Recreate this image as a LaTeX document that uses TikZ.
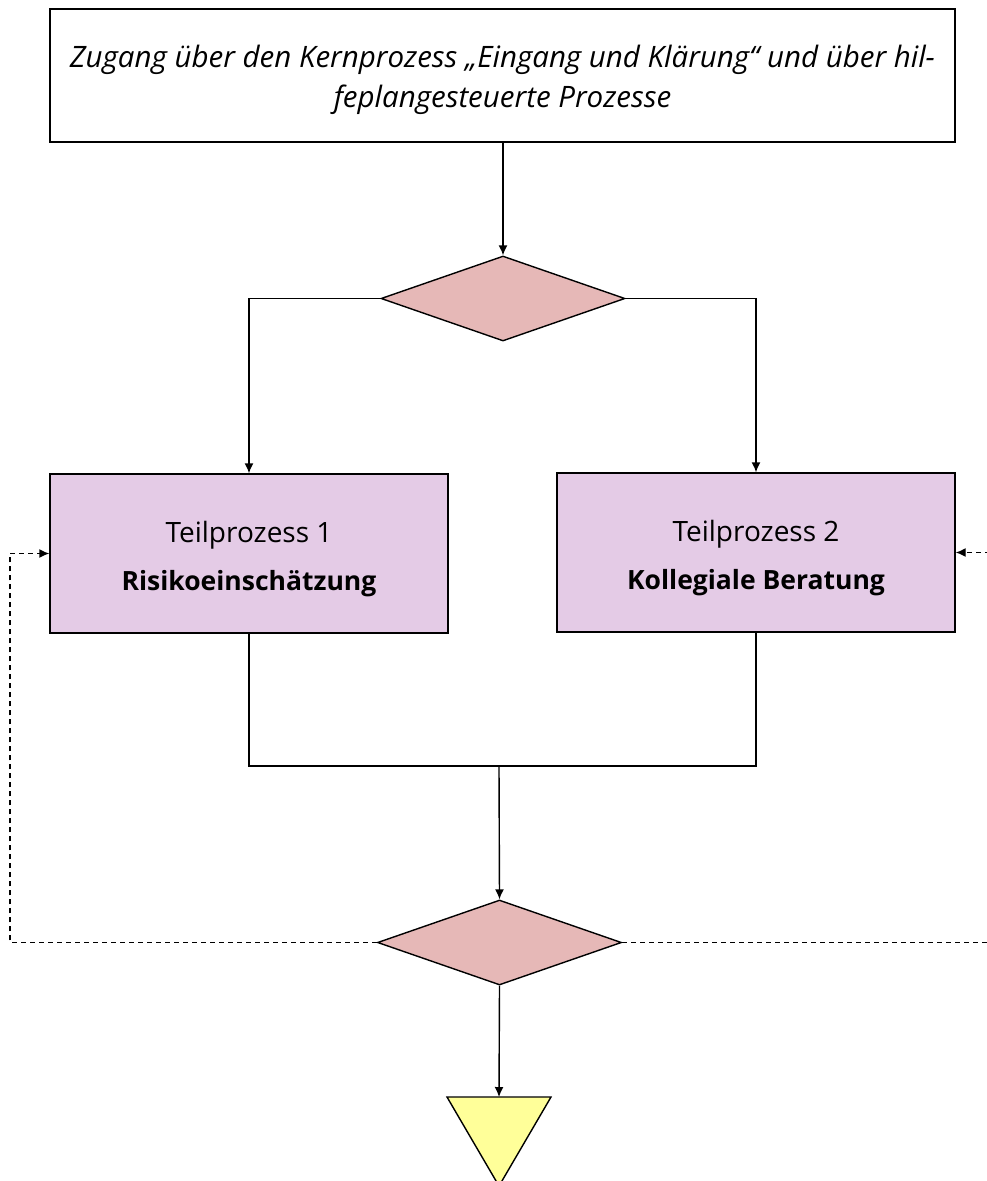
\documentclass[tikz,border=0pt]{standalone}
\usepackage{fontspec}
\setmainfont{Open Sans}
\usetikzlibrary{shapes.geometric,arrows.meta}
\definecolor{boxpurple}{HTML}{E4CBE6}
\definecolor{diapink}{HTML}{E6B8B7}
\definecolor{triyellow}{HTML}{FFFF99}
\tikzset{
  line/.style={line width=1.4pt, draw=black},
  arr/.style={line, -{Latex[length=10pt,width=9pt]}},
  darr/.style={line, dashed, dash pattern=on 5pt off 4pt, -{Latex[length=10pt,width=9pt]}},
  dline/.style={line, dashed, dash pattern=on 5pt off 4pt},
  topbox/.style={rectangle, line, fill=white, minimum width=905pt, minimum height=133pt, inner sep=0pt},
  toptext/.style={inner sep=0pt, align=center, font=\fontsize{29.5}{40}\selectfont\itshape},
  procbox/.style={rectangle, line, fill=boxpurple, minimum width=398pt, minimum height=159pt, inner sep=0pt},
  proctext/.style={inner sep=0pt, align=center, font=\fontsize{28}{48}\selectfont},
  decision/.style={diamond, line, fill=diapink, minimum width=244pt, minimum height=85pt, inner sep=0pt},
}
\begin{document}
\begin{tikzpicture}[x=1pt,y=-1pt]
\useasboundingbox (0,0) rectangle (987,1181);
\node[topbox] (top) at (502.5,75.5) {};
\node[toptext] (topt) at (502.5,79.5) {Zugang über den Kernprozess „Eingang und Klärung“ und über hil-\\feplangesteuerte Prozesse};
\node[decision] (d1) at (503,298.5) {};
\node[procbox] (p1) at (249,553.5) {};
\node[procbox] (p2) at (756,552.5) {};
\node[proctext] (p1t) at (249,559) {Teilprozess 1\\{\fontsize{26.5}{48}\selectfont\bfseries Risikoeinschätzung}};
\node[proctext] (p2t) at (756,558) {Teilprozess 2\\{\fontsize{26.5}{48}\selectfont\bfseries Kollegiale Beratung}};
\node[decision] (d2) at (499.5,942.5) {};
\coordinate (tri) at (499,1097);
\filldraw[line, fill=triyellow] (447,1097) -- (551,1097) -- (499,1186) -- cycle;
\coordinate (join) at (499,766);
\coordinate (lcorner) at (10,942.5);
\coordinate (rcorner) at (990,942.5);

\draw[arr] (top.south -| d1.north) -- (d1.north);
\draw[arr] (d1.west) -| (p1.north);
\draw[arr] (d1.east) -| (p2.north);
\draw[line] (p1.south) |- (join);
\draw[line] (p2.south) |- (join);
\draw[arr] (join) -- (d2.north);
\draw[arr] (d2.south) -- (tri);
\draw[darr] (d2.west) -- (lcorner) |- (p1.west);
\draw[dline] (d2.east) -- (rcorner);
\draw[darr] (rcorner |- p2.east) -- (p2.east);
\end{tikzpicture}
\end{document}
